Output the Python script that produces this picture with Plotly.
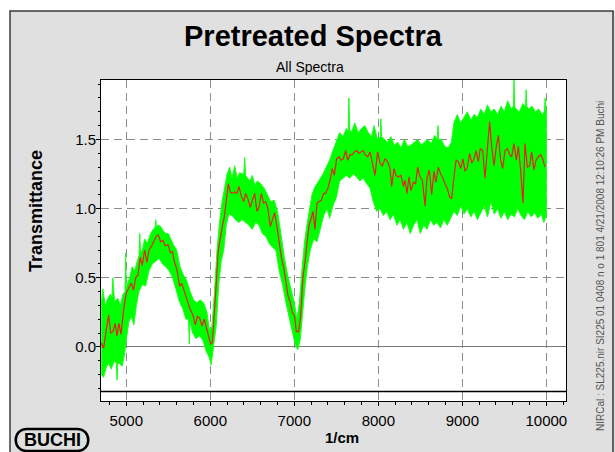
import plotly.graph_objects as go

# ---------------- data ----------------
mean_x = [4702, 4730, 4762, 4790, 4814, 4841, 4869, 4889, 4913, 4937, 4968, 5000, 5032, 5060, 5087,
          5111, 5139, 5167, 5190, 5218, 5246, 5270, 5302, 5329, 5357, 5381, 5409, 5436, 5464, 5496,
          5524, 5548, 5575, 5603, 5635, 5659, 5683, 5706, 5734, 5762, 5794, 5821, 5845, 5873, 5901,
          5929, 5952, 5976, 6004, 6024, 6048, 6071, 6095, 6119, 6143, 6167, 6190, 6214, 6238, 6262,
          6290, 6317, 6341, 6369, 6397, 6421, 6448, 6476, 6500, 6528, 6555, 6579, 6607, 6635, 6659,
          6686, 6714, 6738, 6766, 6794, 6817, 6845, 6873, 6897, 6925, 6952, 6976, 7004, 7024, 7051,
          7075, 7103, 7127, 7151, 7175, 7198, 7222, 7246, 7270, 7294, 7321, 7349, 7373, 7401,
          7425, 7452, 7476, 7504, 7532, 7556, 7583, 7611, 7635, 7663, 7690, 7714, 7742, 7770, 7794,
          7821, 7841, 7873, 7901, 7929, 7960, 7992, 8020, 8048, 8079, 8111, 8139, 8159, 8186, 8210,
          8238, 8270, 8298, 8317, 8341, 8365, 8389, 8417, 8444, 8468, 8496, 8524, 8556, 8579, 8607,
          8635, 8663, 8686, 8714, 8742, 8770, 8794, 8821, 8849, 8873, 8901, 8925, 8952, 8980, 9008,
          9032, 9060, 9087, 9111, 9139, 9163, 9190, 9214, 9242, 9270, 9298, 9325, 9349, 9377, 9405,
          9429, 9456, 9480, 9508, 9536, 9563, 9587, 9615, 9643, 9667, 9694, 9722, 9746, 9774, 9802,
          9825, 9853, 9877, 9905, 9933, 9956, 9984]
mean_y = [0.03, -0.01, 0.125, 0.23, 0.10, 0.11, 0.17, 0.08, 0.17, 0.09, 0.27, 0.39, 0.43, 0.46, 0.41,
          0.50, 0.52, 0.65, 0.59, 0.70, 0.61, 0.70, 0.73, 0.76, 0.80, 0.81, 0.76, 0.77, 0.73, 0.74,
          0.68, 0.69, 0.61, 0.56, 0.44, 0.46, 0.41, 0.37, 0.32, 0.27, 0.23, 0.16, 0.22, 0.21, 0.15,
          0.20, 0.15, 0.08, 0.02, 0.03, 0.22, 0.46, 0.70, 0.80, 0.87, 0.94, 1.06, 1.18, 1.12, 1.11,
          1.12, 1.11, 1.16, 1.09, 1.05, 1.11, 1.07, 1.01, 1.06, 1.11, 0.98, 1.01, 1.11, 1.04, 1.05,
          1.00, 0.87, 0.91, 0.97, 0.87, 0.77, 0.65, 0.58, 0.49, 0.37, 0.32, 0.25, 0.22, 0.11, 0.11,
          0.22, 0.51, 0.61, 0.75, 0.88, 0.92, 0.98, 0.85, 1.04, 1.05, 1.06, 1.11, 1.11, 1.15,
          1.205, 1.29, 1.24, 1.36, 1.375, 1.35, 1.36, 1.42, 1.35, 1.39, 1.39, 1.41, 1.42, 1.40, 1.41,
          1.42, 1.39, 1.375, 1.41, 1.33, 1.24, 1.41, 1.33, 1.31, 1.36, 1.34, 1.29, 1.16, 1.29, 1.24,
          1.23, 1.24, 1.16, 1.205, 1.11, 1.23, 1.13, 1.19, 1.18, 1.30, 1.23, 1.205, 1.02, 1.22, 1.28,
          1.10, 1.27, 1.19, 1.30, 1.25, 1.22, 1.18, 1.145, 1.085, 1.07, 1.23, 1.35, 1.34, 1.29, 1.36,
          1.27, 1.30, 1.40, 1.33, 1.36, 1.42, 1.34, 1.435, 1.42, 1.22, 1.41, 1.63, 1.45, 1.31, 1.45,
          1.53, 1.35, 1.29, 1.42, 1.435, 1.39, 1.375, 1.47, 1.35, 1.45, 1.28, 1.04, 1.47, 1.30, 1.31,
          1.41, 1.28, 1.35, 1.375, 1.39, 1.36, 1.30]

upper_x = [4702, 4720, 4750, 4780, 4810, 4830, 4840, 4850, 4860, 4900, 4930, 4960, 4985, 4992, 5000,
           5010, 5040, 5070, 5100, 5130, 5152, 5160, 5170, 5190, 5220, 5250, 5290, 5320, 5342, 5350,
           5360, 5380, 5410, 5440, 5470, 5500, 5530, 5560, 5600, 5640, 5680, 5720, 5760, 5800, 5840,
           5880, 5920, 5960, 5990, 6020, 6050, 6080, 6110, 6140, 6170, 6200, 6230, 6260, 6290, 6320,
           6350, 6380, 6400, 6410, 6420, 6440, 6470, 6500, 6530, 6560, 6600, 6640, 6680, 6720, 6760,
           6800, 6840, 6880, 6920, 6960, 7000, 7030, 7060, 7090, 7120, 7150, 7180, 7210, 7240, 7270,
           7300, 7340, 7380, 7420, 7460, 7500, 7540, 7580, 7620, 7642, 7650, 7660, 7680, 7720, 7760,
           7800, 7840, 7880, 7920, 7950, 7990, 8022, 8030, 8040, 8070, 8110, 8150, 8190, 8230, 8270,
           8310, 8350, 8390, 8430, 8470, 8510, 8550, 8590, 8630, 8670, 8702, 8710, 8720, 8750, 8790,
           8830, 8870, 8900, 8940, 8980, 9020, 9060, 9100, 9140, 9180, 9220, 9260, 9300, 9340, 9380,
           9420, 9460, 9500, 9540, 9580, 9607, 9615, 9623, 9640, 9680, 9720, 9752, 9760, 9768, 9790,
           9830, 9870, 9910, 9950, 9977, 9985, 10000]
upper_y = [0.30, 0.42, 0.30, 0.35, 0.38, 0.36, 0.50, 0.35, 0.33, 0.35, 0.30, 0.38, 0.40, 0.68, 0.42,
           0.45, 0.50, 0.58, 0.55, 0.62, 0.66, 0.82, 0.68, 0.70, 0.78, 0.75, 0.82, 0.85, 0.86, 0.92,
           0.87, 0.88, 0.87, 0.84, 0.82, 0.82, 0.78, 0.74, 0.70, 0.58, 0.52, 0.48, 0.40, 0.34, 0.32,
           0.34, 0.32, 0.25, 0.12, 0.15, 0.40, 0.70, 0.90, 1.05, 1.15, 1.25, 1.30, 1.22, 1.31, 1.22,
           1.26, 1.25, 1.26, 1.37, 1.24, 1.22, 1.20, 1.24, 1.17, 1.20, 1.18, 1.15, 1.10, 1.05, 1.06,
           0.98, 0.82, 0.65, 0.52, 0.42, 0.32, 0.20, 0.32, 0.55, 0.75, 0.88, 1.00, 1.10, 1.15, 1.18,
           1.20, 1.25, 1.30, 1.35, 1.42, 1.48, 1.55, 1.52, 1.58, 1.56, 1.80, 1.57, 1.55, 1.62, 1.55,
           1.58, 1.60, 1.55, 1.52, 1.60, 1.50, 1.52, 1.65, 1.52, 1.50, 1.48, 1.52, 1.46, 1.48, 1.44,
           1.50, 1.45, 1.46, 1.48, 1.50, 1.46, 1.48, 1.50, 1.47, 1.53, 1.50, 1.60, 1.50, 1.50, 1.45,
           1.44, 1.48, 1.62, 1.68, 1.62, 1.66, 1.70, 1.64, 1.68, 1.66, 1.72, 1.68, 1.75, 1.70, 1.72,
           1.68, 1.74, 1.70, 1.78, 1.72, 1.74, 1.93, 1.74, 1.72, 1.70, 1.76, 1.74, 1.86, 1.74, 1.72,
           1.74, 1.70, 1.72, 1.68, 1.70, 1.80, 1.70]

lower_x = [4702, 4730, 4760, 4790, 4820, 4860, 4882, 4890, 4898, 4920, 4950, 4980, 5000, 5030, 5060,
           5090, 5120, 5150, 5190, 5230, 5270, 5310, 5350, 5390, 5430, 5470, 5510, 5550, 5590, 5630,
           5670, 5710, 5742, 5750, 5758, 5790, 5830, 5870, 5910, 5950, 5990, 6010, 6040, 6070, 6100,
           6130, 6160, 6190, 6220, 6260, 6300, 6340, 6380, 6420, 6460, 6500, 6540, 6580, 6620, 6660,
           6700, 6740, 6780, 6820, 6860, 6900, 6940, 6980, 7010, 7040, 7070, 7100, 7130, 7160, 7190,
           7230, 7270, 7310, 7350, 7390, 7420, 7460, 7500, 7540, 7580, 7620, 7660, 7700, 7740, 7780,
           7820, 7860, 7900, 7940, 7980, 8020, 8060, 8100, 8140, 8180, 8220, 8260, 8300, 8340, 8380,
           8420, 8460, 8500, 8540, 8580, 8620, 8660, 8700, 8740, 8780, 8820, 8860, 8900, 8940, 8980,
           9020, 9060, 9100, 9140, 9180, 9220, 9260, 9300, 9340, 9380, 9420, 9460, 9500, 9540, 9580,
           9620, 9660, 9700, 9740, 9780, 9820, 9860, 9900, 9940, 9970, 10000]
lower_y = [-0.20, -0.22, -0.15, -0.12, -0.16, -0.10, -0.12, -0.24, -0.12, -0.12, -0.14, -0.05, 0.05, 0.18, 0.22,
           0.16, 0.30, 0.40, 0.45, 0.44, 0.55, 0.60, 0.62, 0.64, 0.60, 0.58, 0.55, 0.50, 0.42, 0.33,
           0.28, 0.20, 0.20, 0.02, 0.18, 0.10, 0.06, 0.08, 0.05, -0.03, -0.08, -0.13, 0.00, 0.15, 0.45,
           0.62, 0.70, 0.88, 0.96, 0.95, 0.92, 0.90, 0.92, 0.90, 0.88, 0.85, 0.90, 0.88, 0.82, 0.80,
           0.75, 0.72, 0.70, 0.55, 0.45, 0.32, 0.20, 0.10, 0.02, -0.02, 0.05, 0.25, 0.45, 0.60, 0.70,
           0.78, 0.76, 0.86, 0.95, 1.00, 0.93, 1.02, 1.08, 1.20, 1.22, 1.24, 1.22, 1.25, 1.23, 1.20,
           1.22, 1.18, 1.15, 1.05, 0.98, 1.00, 0.95, 0.98, 0.92, 0.96, 0.88, 0.92, 0.85, 0.90, 0.82,
           0.88, 0.92, 0.82, 0.88, 0.85, 0.92, 0.88, 0.90, 0.86, 0.92, 0.88, 0.93, 0.98, 0.95, 1.02,
           0.96, 1.00, 0.94, 0.98, 0.92, 0.97, 1.02, 0.94, 1.05, 0.96, 1.00, 0.93, 0.98, 0.92, 0.96,
           0.94, 1.00, 0.95, 0.92, 0.98, 0.94, 0.97, 0.93, 0.96, 0.90, 0.95]

x_ticks = [5000, 6000, 7000, 8000, 9000, 10000]
x_tick_labels = ["5000", "6000", "7000", "8000", "9000", "10000"]
y_ticks = [0.0, 0.5, 1.0, 1.5]
y_tick_labels = ["0.0", "0.5", "1.0", "1.5"]
x_range = [4699, 10234]
y_range = [-0.391, 1.930]
baseline_y = -0.322

title_text = "Pretreated Spectra"
subtitle_text = "All Spectra"
y_title = "Transmittance"
x_title = "1/cm"
side_text = "NIRCal : SL225.nir SI225 01 0408 n o 1 801 4/21/2008 12:10:26 PM Buchi"
logo_text = "BUCHI"

# ---------------- layout geometry ----------------
FW, FH = 615, 452
ML, MR, MT, MB = 101, 49, 80, 51
PW, PH = FW - ML - MR, FH - MT - MB


def px(xp):
    return (xp - ML) / PW


def py(yp):
    return 1 - (yp - MT) / PH


FONT = "Liberation Sans, Arial, Helvetica, sans-serif"

fig = go.Figure()

band_x = upper_x + lower_x[::-1]
band_y = upper_y + lower_y[::-1]
fig.add_trace(go.Scatter(x=band_x, y=band_y, mode="lines", fill="toself",
                         fillcolor="#00ff00", line=dict(color="#1cff1c", width=1),
                         hoverinfo="skip", showlegend=False))
fig.add_trace(go.Scatter(x=mean_x, y=mean_y, mode="lines",
                         line=dict(color="#e8201a", width=1.2), showlegend=False))

shapes = [
    # white margins outside the grey frame
    dict(type="rect", xref="paper", yref="paper", x0=px(-5), x1=px(FW + 5), y0=py(11), y1=py(-5),
         fillcolor="white", line=dict(width=0), layer="below"),
    dict(type="rect", xref="paper", yref="paper", x0=px(-5), x1=px(10), y0=py(FH + 5), y1=py(-5),
         fillcolor="white", line=dict(width=0), layer="below"),
    # frame outline
    dict(type="rect", xref="paper", yref="paper", x0=px(10), x1=px(613), y0=py(FH + 10), y1=py(11),
         fillcolor="rgba(0,0,0,0)", line=dict(color="#3a3a3a", width=1.5), layer="below"),
    # bottom baseline inside plot
    dict(type="line", xref="paper", yref="y", x0=0, x1=1, y0=baseline_y, y1=baseline_y,
         line=dict(color="black", width=1.5)),
    # BUCHI logo pill
    dict(type="path", xref="paper", yref="paper",
         path=(f"M {px(27)},{py(429)} L {px(77)},{py(429)} "
               f"C {px(92)},{py(429)} {px(92)},{py(451)} {px(77)},{py(451)} "
               f"L {px(27)},{py(451)} "
               f"C {px(12)},{py(451)} {px(12)},{py(429)} {px(27)},{py(429)} Z"),
         line=dict(color="black", width=2.5), fillcolor="rgba(0,0,0,0)"),
]

annotations = [
    dict(text=f"<b>{title_text}</b>", x=px(313), y=py(36), xref="paper", yref="paper",
         showarrow=False, xanchor="center", yanchor="middle",
         font=dict(family=FONT, size=29, color="black")),
    dict(text=subtitle_text, x=px(310), y=py(67), xref="paper", yref="paper",
         showarrow=False, xanchor="center", yanchor="middle",
         font=dict(family=FONT, size=14, color="black")),
    dict(text=f"<b>{y_title}</b>", x=px(36), y=py(211), xref="paper", yref="paper",
         showarrow=False, xanchor="center", yanchor="middle", textangle=-90,
         font=dict(family=FONT, size=18, color="black")),
    dict(text=f"<b>{x_title}</b>", x=px(342), y=py(437), xref="paper", yref="paper",
         showarrow=False, xanchor="center", yanchor="middle",
         font=dict(family=FONT, size=15, color="black")),
    dict(text=side_text, x=px(600), y=py(266), xref="paper", yref="paper",
         showarrow=False, xanchor="center", yanchor="middle", textangle=-90,
         font=dict(family=FONT, size=10, color="#555555")),
    dict(text=f"<b>{logo_text}</b>", x=px(52), y=py(440), xref="paper", yref="paper",
         showarrow=False, xanchor="center", yanchor="middle",
         font=dict(family=FONT, size=18, color="black")),
]

fig.update_layout(
    width=FW, height=FH,
    margin=dict(l=ML, r=MR, t=MT, b=MB, pad=0),
    paper_bgcolor="#e0e0e0", plot_bgcolor="white",
    shapes=shapes, annotations=annotations,
    showlegend=False,
)
fig.update_xaxes(
    range=x_range, tickmode="array", tickvals=x_ticks, ticktext=x_tick_labels,
    ticks="outside", ticklen=4, tickcolor="black", ticklabelstandoff=2,
    tickfont=dict(family=FONT, size=15, color="black"),
    showline=True, linecolor="black", linewidth=1, mirror=True,
    showgrid=True, gridcolor="#8c8c8c", gridwidth=1, griddash="8px,5px",
    zeroline=False,
    minor=dict(dtick=200, tick0=0, ticks="outside", ticklen=3, tickcolor="black", showgrid=False),
)
fig.update_yaxes(
    range=y_range, tickmode="array", tickvals=y_ticks, ticktext=y_tick_labels,
    ticks="outside", ticklen=4, tickcolor="black", ticklabelstandoff=-3,
    tickfont=dict(family=FONT, size=15, color="black"),
    showline=True, linecolor="black", linewidth=1, mirror=True,
    showgrid=True, gridcolor="#8c8c8c", gridwidth=1, griddash="8px,5px",
    zeroline=True, zerolinecolor="#7a7a7a", zerolinewidth=1,
    minor=dict(dtick=0.1, tick0=0, ticks="outside", ticklen=2, tickcolor="black", showgrid=False),
)

fig.write_html("out.html", config={"displayModeBar": False},
               post_script="document.body.style.margin='0';document.body.style.overflow='hidden';")
